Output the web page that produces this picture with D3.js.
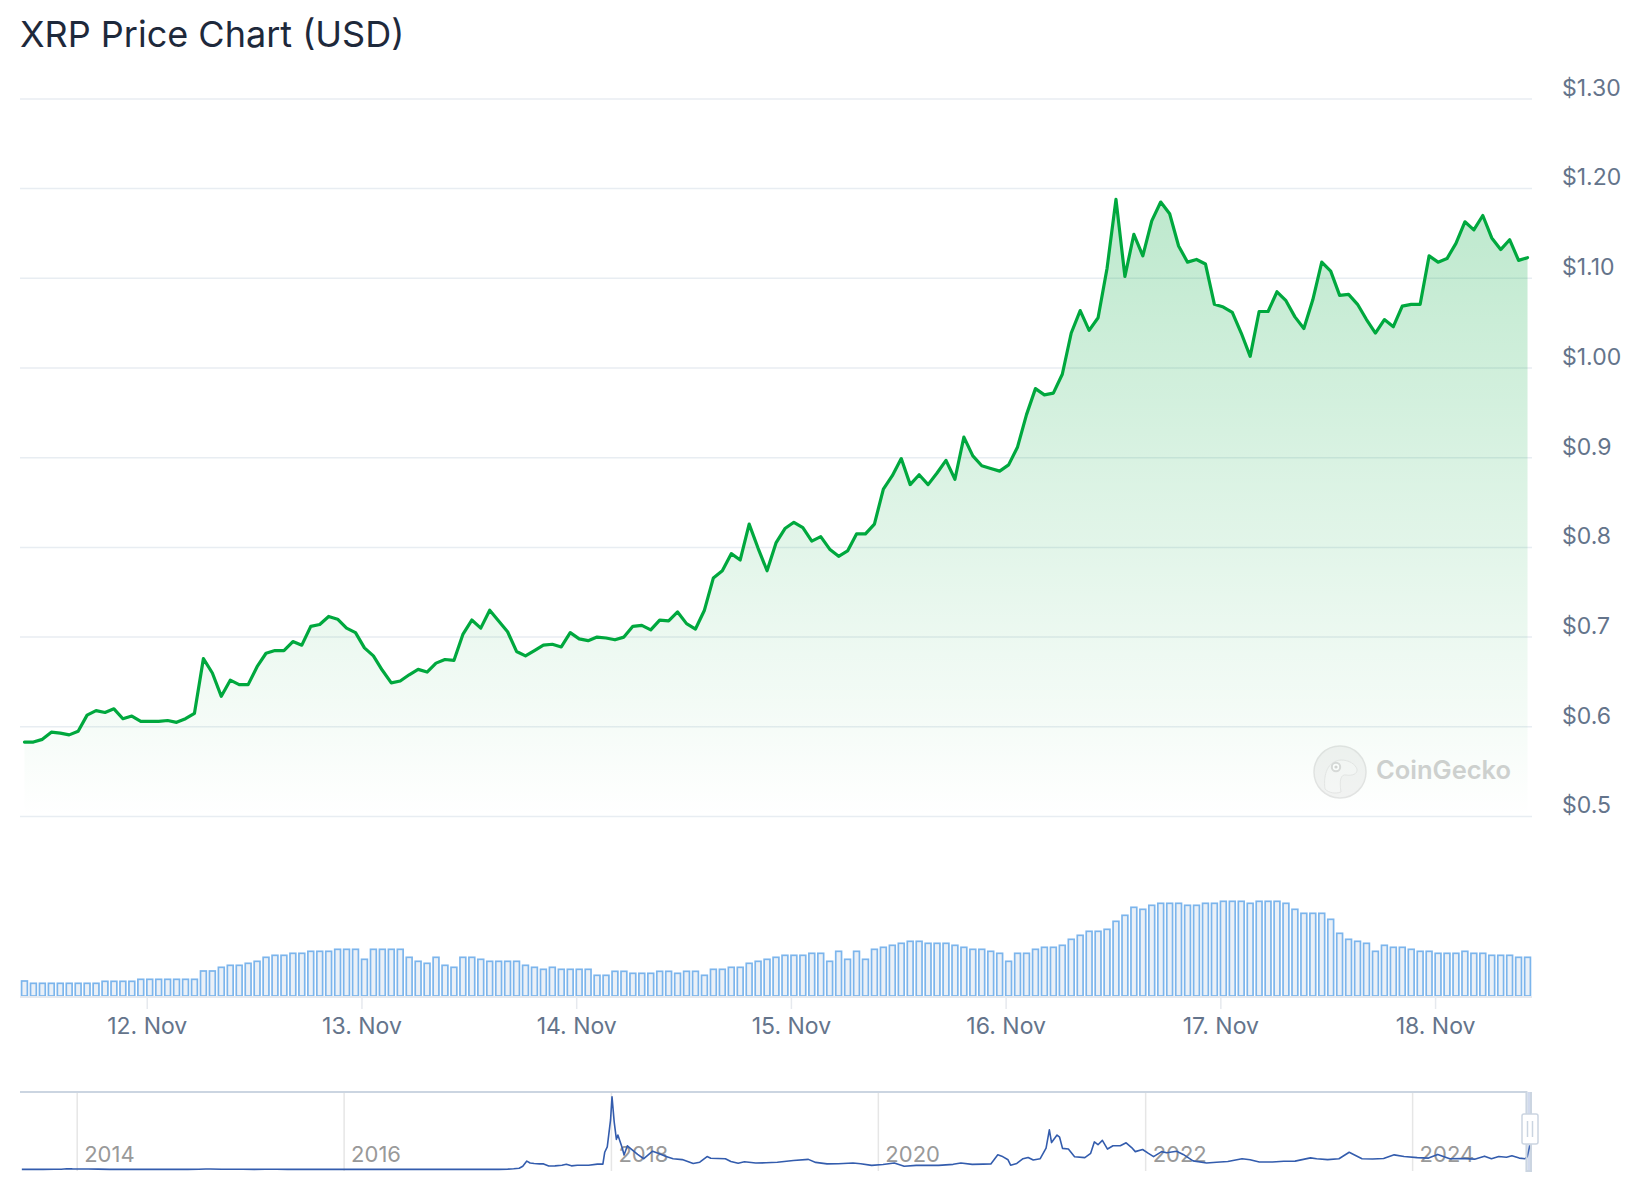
<!DOCTYPE html>
<html>
<head>
<meta charset="utf-8">
<script src="https://cdn.jsdelivr.net/npm/d3@7"></script>
<style>
  html, body { margin: 0; padding: 0; background: #ffffff; }
  svg { display: block; font-family: Inter, "Noto Sans", "DejaVu Sans", sans-serif; }
</style>
</head>
<body>
<svg id="chart" width="1644" height="1200"></svg>
<script>
// ---------------- DATA ----------------
const chartTitle = "XRP Price Chart (USD)";
const watermarkText = "CoinGecko";
const seriesStart = "2024-11-11T10:20:00Z"; // first hourly sample (UTC)

// hourly XRP price, USD
const prices = [
  0.583, 0.583, 0.586, 0.594, 0.593, 0.591, 0.595, 0.613, 0.618, 0.616,
  0.620, 0.609, 0.612, 0.606, 0.606, 0.606, 0.607, 0.605, 0.609, 0.615,
  0.676, 0.660, 0.634, 0.652, 0.647, 0.647, 0.667, 0.682, 0.685, 0.685,
  0.695, 0.691, 0.712, 0.714, 0.723, 0.720, 0.710, 0.705, 0.688, 0.679,
  0.663, 0.649, 0.651, 0.658, 0.664, 0.661, 0.671, 0.675, 0.674, 0.703,
  0.719, 0.710, 0.730, 0.718, 0.706, 0.684, 0.679, 0.685, 0.691, 0.692,
  0.689, 0.705, 0.698, 0.696, 0.700, 0.699, 0.697, 0.700, 0.712, 0.713,
  0.708, 0.719, 0.718, 0.728, 0.715, 0.709, 0.730, 0.766, 0.774, 0.793,
  0.786, 0.826, 0.799, 0.774, 0.805, 0.821, 0.828, 0.822, 0.807, 0.812,
  0.798, 0.790, 0.796, 0.815, 0.815, 0.826, 0.865, 0.880, 0.899, 0.870,
  0.881, 0.870, 0.883, 0.897, 0.876, 0.923, 0.902, 0.891, 0.888, 0.885,
  0.892, 0.912, 0.948, 0.977, 0.970, 0.972, 0.993, 1.039, 1.064, 1.042,
  1.056, 1.111, 1.188, 1.102, 1.149, 1.125, 1.164, 1.185, 1.172, 1.136,
  1.118, 1.121, 1.116, 1.071, 1.068, 1.062, 1.039, 1.013, 1.063, 1.063,
  1.085, 1.075, 1.057, 1.044, 1.076, 1.118, 1.108, 1.081, 1.082, 1.071,
  1.054, 1.039, 1.054, 1.046, 1.069, 1.071, 1.071, 1.125, 1.118, 1.122,
  1.139, 1.163, 1.154, 1.170, 1.145, 1.132, 1.143, 1.120, 1.123
];

// hourly 24h trading volume, billions USD
const volumes = [
  3.75, 3.17, 3.17, 3.17, 3.17, 3.17, 3.17, 3.17, 3.17, 3.67,
  3.67, 3.67, 3.67, 4.17, 4.17, 4.17, 4.17, 4.17, 4.17, 4.17,
  6.25, 6.25, 7.17, 7.67, 7.67, 8.17, 8.67, 9.67, 10.17, 10.17,
  10.67, 10.67, 11.17, 11.17, 11.17, 11.67, 11.67, 11.67, 9.17, 11.67,
  11.67, 11.67, 11.67, 9.67, 8.67, 8.17, 9.67, 7.67, 7.17, 9.67,
  9.67, 9.17, 8.67, 8.67, 8.67, 8.67, 7.67, 7.17, 6.67, 7.17,
  6.67, 6.67, 6.67, 6.67, 5.17, 5.17, 6.17, 6.17, 5.67, 5.67,
  5.67, 6.17, 6.17, 5.67, 6.17, 6.17, 5.17, 6.67, 6.67, 7.17,
  7.17, 8.17, 8.67, 9.17, 9.67, 10.17, 10.17, 10.17, 10.67, 10.67,
  8.67, 11.17, 9.17, 11.17, 9.17, 11.67, 12.17, 12.67, 13.17, 13.67,
  13.67, 13.17, 13.17, 13.17, 12.67, 12.17, 11.67, 11.67, 11.17, 10.67,
  8.67, 10.67, 10.67, 11.67, 12.17, 12.17, 12.67, 14.17, 15.17, 16.17,
  16.17, 16.67, 18.67, 20.17, 22.17, 21.67, 22.67, 23.17, 23.17, 23.17,
  22.67, 22.67, 23.17, 23.17, 23.67, 23.67, 23.67, 23.17, 23.67, 23.67,
  23.67, 23.17, 21.67, 20.67, 20.67, 20.67, 19.17, 15.67, 14.17, 13.67,
  13.17, 11.17, 12.67, 12.17, 12.17, 11.67, 11.17, 11.17, 10.67, 10.67,
  10.67, 11.17, 10.67, 10.67, 10.17, 10.17, 10.17, 9.67, 9.67
];

const priceTicks = [0.5, 0.6, 0.7, 0.8, 0.9, 1.0, 1.1, 1.2, 1.3];
const priceTickLabels = ["$0.5", "$0.6", "$0.7", "$0.8", "$0.9", "$1.00", "$1.10", "$1.20", "$1.30"];

const dayTicks = ["2024-11-12", "2024-11-13", "2024-11-14", "2024-11-15", "2024-11-16", "2024-11-17", "2024-11-18"];
const dayTickLabels = ["12. Nov", "13. Nov", "14. Nov", "15. Nov", "16. Nov", "17. Nov", "18. Nov"];

// full price history for the navigator
const historyDates = [
  "2013-08-04","2013-09-01","2013-10-01","2013-11-01","2013-11-20","2013-12-05","2013-12-20",
  "2014-01-05","2014-02-01","2014-03-01","2014-04-01","2014-05-01","2014-06-01","2014-07-01",
  "2014-08-01","2014-09-01","2014-10-01","2014-11-01","2014-12-01","2014-12-20","2015-01-01",
  "2015-02-01","2015-03-01","2015-04-01","2015-05-01","2015-06-01","2015-07-01","2015-08-01",
  "2015-09-01","2015-10-01","2015-11-01","2015-12-01","2016-01-01","2016-03-01","2016-05-01",
  "2016-07-01","2016-09-01","2016-11-01","2017-01-01","2017-03-01","2017-03-25","2017-04-10",
  "2017-04-25","2017-05-05","2017-05-16","2017-05-25","2017-06-05","2017-06-20","2017-07-01",
  "2017-07-15","2017-08-01","2017-08-20","2017-09-01","2017-09-15","2017-10-01","2017-11-01",
  "2017-11-25","2017-12-10","2017-12-15","2017-12-22","2017-12-31","2018-01-04","2018-01-10",
  "2018-01-16","2018-01-20","2018-02-01","2018-02-06","2018-02-15","2018-03-01","2018-03-15",
  "2018-04-01","2018-04-25","2018-05-10","2018-06-01","2018-06-20","2018-07-15","2018-08-14",
  "2018-09-01","2018-09-21","2018-10-01","2018-11-10","2018-11-25","2018-12-15","2019-01-01",
  "2019-02-01","2019-03-01","2019-04-01","2019-05-15","2019-06-25","2019-07-15","2019-08-15",
  "2019-09-15","2019-10-25","2019-11-15","2019-12-15","2020-01-15","2020-02-15","2020-03-13",
  "2020-04-15","2020-05-15","2020-06-15","2020-07-25","2020-08-15","2020-09-15","2020-10-15",
  "2020-11-05","2020-11-24","2020-12-05","2020-12-22","2020-12-29","2021-01-15","2021-02-01",
  "2021-02-15","2021-03-01","2021-03-20","2021-04-05","2021-04-14","2021-04-20","2021-05-05",
  "2021-05-12","2021-05-20","2021-06-05","2021-06-22","2021-07-20","2021-08-05","2021-08-15",
  "2021-08-25","2021-09-06","2021-09-20","2021-10-05","2021-10-25","2021-11-10","2021-11-25",
  "2021-12-05","2021-12-25","2022-01-10","2022-01-24","2022-02-15","2022-03-01","2022-03-28",
  "2022-04-15","2022-05-12","2022-06-18","2022-07-15","2022-08-15","2022-09-23","2022-10-15",
  "2022-11-09","2022-12-15","2023-01-15","2023-02-15","2023-03-29","2023-04-15","2023-05-15",
  "2023-06-15","2023-07-13","2023-07-25","2023-08-17","2023-09-15","2023-10-15","2023-11-13",
  "2023-12-10","2024-01-15","2024-02-15","2024-03-11","2024-04-13","2024-05-15","2024-06-20",
  "2024-07-17","2024-08-05","2024-08-25","2024-09-15","2024-09-30","2024-10-20","2024-11-05",
  "2024-11-11","2024-11-18"
];
const historyPrices = [
  0.0058,0.0055,0.0055,0.009,0.015,0.035,0.027,
  0.025,0.025,0.016,0.008,0.005,0.0048,0.0045,
  0.0045,0.006,0.005,0.005,0.013,0.025,0.024,
  0.015,0.011,0.009,0.0075,0.0082,0.0085,0.0078,
  0.0065,0.005,0.0042,0.0058,0.0061,0.0075,0.0062,
  0.0065,0.0066,0.0072,0.0064,0.0066,0.018,0.034,
  0.055,0.15,0.39,0.30,0.28,0.26,0.26,
  0.16,0.17,0.20,0.24,0.17,0.20,0.20,
  0.25,0.25,0.80,1.05,2.30,3.38,2.20,
  1.40,1.60,1.00,0.67,1.10,0.90,0.70,
  0.50,0.85,0.75,0.60,0.50,0.46,0.28,
  0.34,0.60,0.52,0.50,0.37,0.29,0.36,
  0.30,0.31,0.34,0.42,0.47,0.33,0.26,
  0.27,0.30,0.27,0.19,0.23,0.30,0.15,
  0.19,0.20,0.19,0.24,0.30,0.24,0.25,
  0.26,0.68,0.62,0.45,0.20,0.28,0.50,
  0.56,0.44,0.50,0.99,1.84,1.25,1.60,
  1.50,0.98,0.95,0.59,0.55,0.75,1.28,
  1.15,1.35,0.95,1.10,1.10,1.24,1.02,
  0.83,0.93,0.75,0.60,0.83,0.78,0.85,
  0.70,0.40,0.30,0.34,0.37,0.50,0.45,
  0.35,0.35,0.38,0.39,0.54,0.50,0.46,
  0.50,0.80,0.70,0.50,0.49,0.51,0.68,
  0.60,0.55,0.53,0.70,0.50,0.51,0.48,
  0.62,0.50,0.60,0.57,0.64,0.53,0.50,
  0.60,1.12
];
const navYearTicks = ["2014-01-01", "2016-01-01", "2018-01-01", "2020-01-01", "2022-01-01", "2024-01-01"];
const navYearLabels = ["2014", "2016", "2018", "2020", "2022", "2024"];

// ---------------- CHART ----------------
const svg = d3.select("#chart");
const HOUR = 3600 * 1000;
const t0 = new Date(seriesStart).getTime();
const times = prices.map((_, i) => new Date(t0 + i * HOUR));
const data = prices.map((p, i) => ({ t: times[i], p, v: volumes[i] }));

const plotLeft = 20, plotRight = 1532;
const x = d3.scaleUtc()
  .domain([new Date(t0 - HOUR / 2), new Date(t0 + (prices.length - 1) * HOUR + HOUR / 2)])
  .range([plotLeft, plotRight]);
const y = d3.scaleLinear().domain([0.5, 1.3]).range([816.5, 98.9]);
const yVol = d3.scaleLinear().domain([0, 24]).range([996, 900]);

const defs = svg.append("defs");
const grad = defs.append("linearGradient")
  .attr("id", "areaGrad").attr("gradientUnits", "userSpaceOnUse")
  .attr("x1", 0).attr("x2", 0).attr("y1", y(1.3)).attr("y2", y(0.5));
grad.append("stop").attr("offset", 0).attr("stop-color", "#00a83e").attr("stop-opacity", 0.30);
grad.append("stop").attr("offset", 1).attr("stop-color", "#00a83e").attr("stop-opacity", 0.0);

// title
svg.append("text")
  .attr("x", 20).attr("y", 47)
  .attr("font-size", 36).attr("fill", "#1e293b")
  .text(chartTitle);

// gridlines
svg.append("g").selectAll("line").data(priceTicks).join("line")
  .attr("x1", plotLeft).attr("x2", plotRight)
  .attr("y1", d => y(d)).attr("y2", d => y(d))
  .attr("stroke", "#e8edf2").attr("stroke-width", 1.5);

// price axis labels
const yAxisG = svg.append("g").attr("transform", `translate(1562,0)`)
  .call(d3.axisRight(y).tickValues(priceTicks).tickSize(0).tickPadding(0)
    .tickFormat((d, i) => priceTickLabels[i]));
yAxisG.select(".domain").remove();
yAxisG.selectAll("text")
  .attr("x", 0).attr("y", -11).attr("dy", "0.32em")
  .attr("font-size", 23).attr("fill", "#64748b")
  .attr("font-family", "Inter, 'Noto Sans', sans-serif");

// watermark
const wm = svg.append("g").attr("opacity", 0.9);
wm.append("circle").attr("cx", 1340).attr("cy", 772).attr("r", 26)
  .attr("fill", "#efefef").attr("fill-opacity", 0.8).attr("stroke", "#e2e2e2").attr("stroke-width", 1.5);
wm.append("path")
  .attr("transform", "translate(1340,772)")
  .attr("d", "M -15 17 C -17 2 -12 -11 1 -12 C 9 -12 15 -8 17 -3 C 18 2 12 4 6 3 C 1 2 -1 8 1 20 C -5 22 -11 21 -15 17 Z")
  .attr("fill", "#f7f7f7").attr("stroke", "#e4e4e4").attr("stroke-width", 1);
wm.append("circle").attr("cx", 1336).attr("cy", 767).attr("r", 4.2)
  .attr("fill", "#ffffff").attr("stroke", "#d6d6d6").attr("stroke-width", 2);
wm.append("circle").attr("cx", 1336).attr("cy", 767).attr("r", 1.6).attr("fill", "#d0d0d0");
wm.append("text").attr("x", 1376).attr("y", 779)
  .attr("font-size", 25.5).attr("font-weight", 600).attr("fill", "#cdcdcd")
  .text(watermarkText);

// area + line
const area = d3.area().x(d => x(d.t)).y0(y(0.5)).y1(d => y(d.p));
const line = d3.line().x(d => x(d.t)).y(d => y(d.p));
svg.append("path").datum(data).attr("d", area).attr("fill", "url(#areaGrad)");
svg.append("path").datum(data).attr("d", line)
  .attr("fill", "none").attr("stroke", "#00a83e").attr("stroke-width", 3.2)
  .attr("stroke-linejoin", "round").attr("stroke-linecap", "round");

// volume bars
const barW = 5.8;
svg.append("g").selectAll("rect").data(data).join("rect")
  .attr("x", d => x(d.t) - barW / 2)
  .attr("width", barW)
  .attr("y", d => yVol(d.v))
  .attr("height", d => yVol(0) - yVol(d.v))
  .attr("fill", "#eaf0f7").attr("stroke", "#7cb5ec").attr("stroke-width", 1.7);

// x axis base line
svg.append("rect").attr("x", plotLeft).attr("y", 996).attr("width", plotRight - plotLeft).attr("height", 2)
  .attr("fill", "#e6e9ee");

// day axis
const dayDates = dayTicks.map(s => new Date(s + "T00:00:00Z"));
const xAxisG = svg.append("g").attr("transform", "translate(0,997)")
  .call(d3.axisBottom(x).tickValues(dayDates).tickSize(12).tickPadding(0)
    .tickFormat((d, i) => dayTickLabels[i]));
xAxisG.select(".domain").remove();
xAxisG.selectAll(".tick line").attr("stroke", "#e6e9ee").attr("stroke-width", 1.5);
xAxisG.selectAll("text")
  .attr("y", 21).attr("dy", "0.71em")
  .attr("font-size", 23).attr("fill", "#64748b")
  .attr("font-family", "Inter, 'Noto Sans', sans-serif");

// ---------------- NAVIGATOR ----------------
const navTop = 1092, navBottom = 1171;
const hist = historyDates.map((d, i) => ({ t: new Date(d + "T00:00:00Z"), p: historyPrices[i] }));
const xNav = d3.scaleUtc()
  .domain([new Date("2013-07-30T00:00:00Z"), new Date(t0 + (prices.length - 1) * HOUR)])
  .range([plotLeft, 1530]);
const yNav = d3.scaleLinear().domain([0, 3.38]).range([1169.5, 1096.7]);

const navAxisG = svg.append("g").attr("transform", `translate(0,${navBottom})`)
  .call(d3.axisBottom(xNav).tickValues(navYearTicks.map(s => new Date(s + "T00:00:00Z")))
    .tickSize(-(navBottom - navTop)).tickPadding(0)
    .tickFormat((d, i) => navYearLabels[i]));
navAxisG.select(".domain").remove();
navAxisG.selectAll(".tick line").attr("stroke", "#e6e6e6").attr("stroke-width", 1.5);
navAxisG.selectAll("text")
  .attr("x", 7).attr("y", -9.5).attr("dy", 0)
  .attr("text-anchor", "start")
  .attr("font-size", 22).attr("fill", "#999999")
  .attr("font-family", "Inter, 'Noto Sans', sans-serif");

svg.append("path").datum(hist)
  .attr("d", d3.line().x(d => xNav(d.t)).y(d => yNav(d.p)))
  .attr("fill", "none").attr("stroke", "#335cad").attr("stroke-width", 1.6)
  .attr("stroke-linejoin", "round");

const zoneStart = xNav(new Date(t0));
const zoneEnd = xNav(new Date(t0 + (prices.length - 1) * HOUR));
svg.append("rect").attr("x", zoneStart).attr("y", navTop).attr("width", zoneEnd - zoneStart)
  .attr("height", navBottom - navTop).attr("fill", "rgba(102,133,194,0.3)");
svg.append("path")
  .attr("d", `M${plotLeft},${navTop} H${zoneStart - 1} V${navBottom} H${zoneEnd + 1} V${navTop}`)
  .attr("fill", "none").attr("stroke", "#cbd5e1").attr("stroke-width", 2);

// handle
const hx = zoneEnd;
svg.append("rect").attr("x", hx - 8).attr("y", 1114).attr("width", 16).attr("height", 30).attr("rx", 2)
  .attr("fill", "#ffffff").attr("stroke", "#cbd5e1").attr("stroke-width", 1.5);
svg.append("g").selectAll("line").data([-2.5, 2.5]).join("line")
  .attr("x1", d => hx + d).attr("x2", d => hx + d).attr("y1", 1121).attr("y2", 1137)
  .attr("stroke", "#cbd5e1").attr("stroke-width", 1.5);
</script>
</body>
</html>
